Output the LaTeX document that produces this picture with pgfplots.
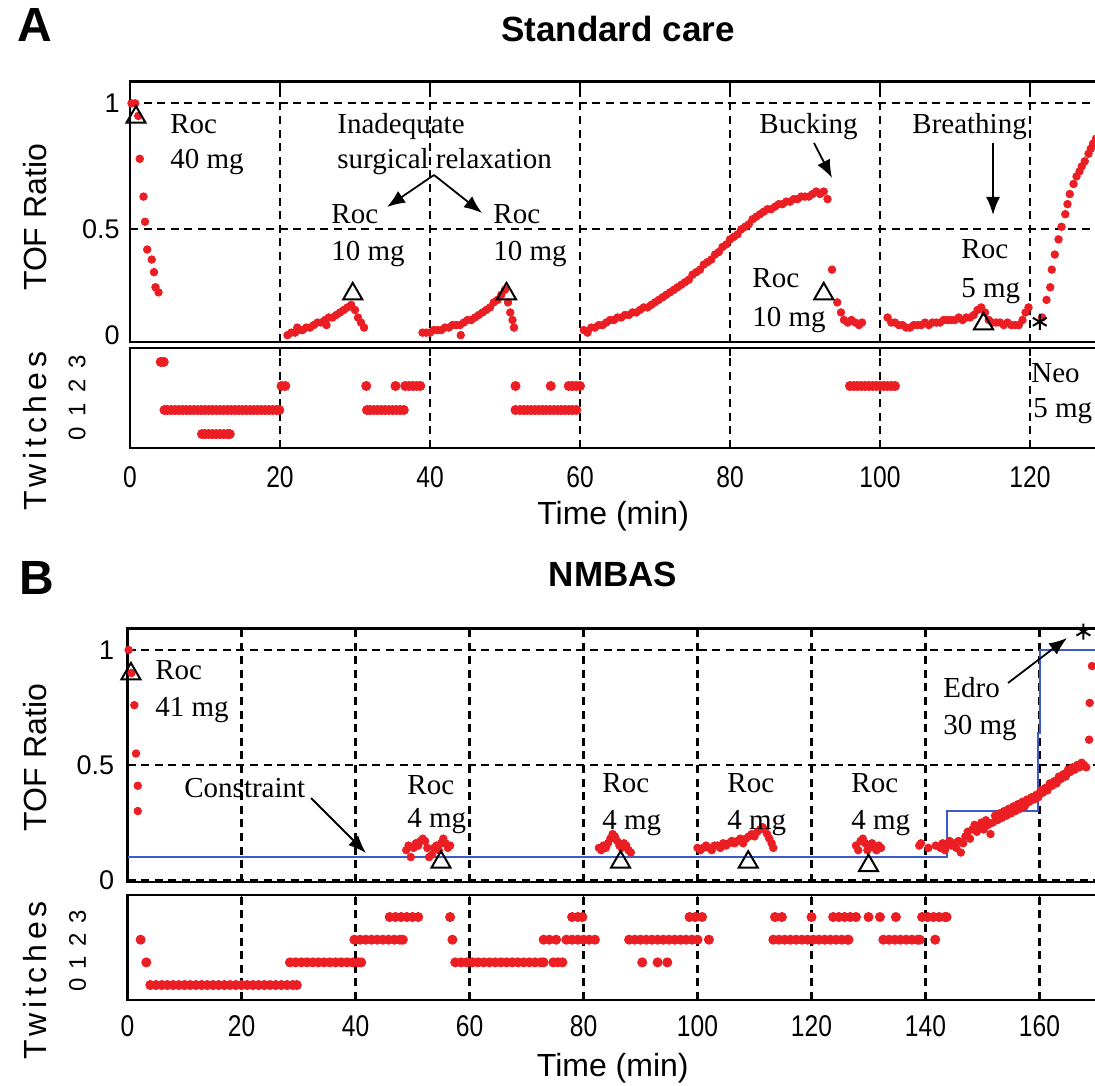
\documentclass[border=0pt]{standalone}
\usepackage{graphicx}
\usepackage{fontspec}
\setmainfont{Liberation Sans}
\newfontfamily\annot{Liberation Serif}
\usepackage{pgfplots}
\pgfplotsset{compat=1.18}
\usetikzlibrary{arrows.meta}
\definecolor{dotred}{RGB}{235,30,36}
\definecolor{lineblue}{RGB}{60,90,200}
\newcommand\sx[1]{\scalebox{0.82}[1]{#1}}

\pgfplotsset{
  panel/.style={
    scale only axis, anchor=south west, clip=false,
    axis line style={line width=1.2pt},
    tick align=inside, major tick length=4pt,
    tick style={black, line width=0.9pt},
    major grid style={black, line width=1.05pt, dash pattern=on 4pt off 2.8pt},
    xmajorgrids,
    /pgf/number format/assume math mode=true,
    tick label style={font=\fontsize{13.5}{15}\selectfont},
    label style={font=\fontsize{16}{18}\selectfont},
  },
  tofdots/.style={only marks, mark=*, mark size=1.9pt, color=dotred},
  twdots/.style={only marks, mark=*, mark size=2.3pt, color=dotred},
  dose/.style={only marks, mark=triangle, mark size=5.5pt, black, mark options={line width=1pt}},
  reversal/.style={only marks, mark=asterisk, mark size=4pt, black, mark options={line width=1pt}},
  twstyle/.style={
    ytick={0,1,2,3}, yticklabels={0,1,2,3},
    ytick style={draw=none},
    yticklabel style={rotate=90, anchor=center, font=\fontsize{12}{13}\selectfont},
    xticklabel style={anchor=center, font=\fontsize{15}{16}\selectfont},
  },
}

\begin{document}
\begin{tikzpicture}
\useasboundingbox (0,0) rectangle (547.5pt,-542.5pt);

% ---------------- A: TOF ratio
\begin{axis}[panel, at={(65pt,-170.85pt)}, width=495pt, height=130pt,
  xmin=0, xmax=132, ymin=0.054, ymax=1.086,
  xtick={0,20,...,120}, xticklabels={},
  ytick={0.5,1}, yticklabels={0.5,1},
  extra y ticks={0.08}, extra y tick labels={0},
  extra y tick style={grid=none, major tick length=0pt},
  ymajorgrids,
  yticklabel style={anchor=east, inner sep=0pt}, yticklabel shift=5pt,
  ylabel={TOF Ratio},
  ylabel style={at={([xshift=-47.5pt]axis description cs:0,0.478)}, anchor=center},
]
\addplot[tofdots] coordinates {
 (0.2,1.0) (0.7,1.0) (1.1,0.95) (1.3,0.78) (1.8,0.63) (2.0,0.53) (2.3,0.42)
 (2.9,0.38) (3.2,0.33) (3.4,0.27) (3.8,0.25)
};
\addplot[tofdots] coordinates {
 (21.0,0.08) (21.5,0.09) (22.0,0.09) (22.3,0.11) (22.5,0.10) (23.0,0.10) (23.5,0.11)
 (24.0,0.11) (24.5,0.12) (25.0,0.13) (25.5,0.13) (26.0,0.14) (26.2,0.12) (26.5,0.15)
 (27.0,0.15) (27.5,0.16) (28.0,0.17) (28.5,0.18) (29.0,0.19) (29.5,0.20) (30.0,0.18)
 (30.4,0.15) (30.8,0.13) (31.2,0.11)
};
\addplot[tofdots] coordinates {
 (39.0,0.09) (39.5,0.09) (40.0,0.09) (40.5,0.10) (41.0,0.10) (41.5,0.10) (42.0,0.11)
 (42.5,0.11) (43.0,0.12) (43.5,0.12) (44.0,0.12) (44.1,0.08) (44.5,0.13) (45.0,0.14)
 (45.5,0.14) (46.0,0.15) (46.5,0.16) (47.0,0.17) (47.5,0.18) (48.0,0.19) (48.5,0.21)
 (49.0,0.22) (49.5,0.24) (50.0,0.26) (50.4,0.21) (50.7,0.17) (51.0,0.14) (51.2,0.11)
};
\addplot[tofdots] coordinates {
 (60.5,0.10) (61.0,0.09) (61.5,0.11) (62.0,0.11) (62.5,0.12) (63.0,0.12) (63.5,0.13)
 (64.0,0.14) (64.5,0.14) (65.0,0.15) (65.5,0.15) (66.0,0.16) (66.5,0.16) (67.0,0.17)
 (67.5,0.17) (68.0,0.18) (68.5,0.19) (69.0,0.19) (69.5,0.20) (70.0,0.21) (70.5,0.22)
 (71.0,0.23) (71.5,0.24) (72.0,0.25) (72.5,0.26) (73.0,0.27) (73.5,0.28) (74.0,0.29)
 (74.5,0.30) (75.0,0.32) (75.5,0.33) (76.0,0.34) (76.5,0.36) (77.0,0.37) (77.5,0.38)
 (78.0,0.40) (78.5,0.41) (79.0,0.43) (79.5,0.44) (80.0,0.46) (80.5,0.47) (81.0,0.48)
 (81.5,0.50) (82.0,0.51) (82.5,0.52) (83.0,0.54) (83.5,0.55) (84.0,0.56) (84.5,0.57)
 (85.0,0.58) (85.5,0.58) (86.0,0.59) (86.5,0.60) (87.0,0.60) (87.5,0.61) (88.0,0.61)
 (88.5,0.62) (89.0,0.62) (89.5,0.63) (90.0,0.63) (90.5,0.63) (91.0,0.64) (91.5,0.65)
 (92.0,0.64) (92.5,0.65) (93.0,0.62)
};
\addplot[tofdots] coordinates {
 (93.6,0.34) (94.3,0.21) (94.8,0.17) (95.2,0.14) (95.7,0.13) (96.2,0.14) (96.7,0.13)
 (97.2,0.12) (97.6,0.13)
};
\addplot[tofdots] coordinates {
 (101.0,0.15) (101.5,0.13) (102.0,0.13) (102.5,0.12) (103.0,0.12) (103.5,0.11)
 (104.0,0.11) (104.5,0.12) (105.0,0.12) (105.5,0.12) (106.0,0.13) (106.5,0.12)
 (107.0,0.13) (107.5,0.13) (108.0,0.13) (108.5,0.14) (109.0,0.14) (109.5,0.14)
 (110.0,0.14) (110.5,0.15) (111.0,0.14) (111.5,0.15) (112.0,0.15) (112.5,0.16)
 (113.0,0.18) (113.5,0.19) (114.0,0.17) (114.5,0.14) (115.0,0.13) (115.5,0.13)
 (116.0,0.13) (116.5,0.12) (117.0,0.13) (117.5,0.12) (118.0,0.12) (118.5,0.12)
 (119.0,0.14) (119.4,0.17) (119.8,0.19)
};
\addplot[tofdots] coordinates {
 (121.6,0.15) (122.2,0.22) (122.7,0.27) (122.9,0.34) (123.3,0.40) (123.8,0.46)
 (124.2,0.51) (124.7,0.56) (125.0,0.60) (125.3,0.64) (125.8,0.68) (126.2,0.71)
 (126.6,0.73) (126.9,0.75) (127.3,0.77) (127.8,0.80) (128.1,0.82) (128.4,0.84) (128.8,0.86)
};
\addplot[dose] coordinates {(0.8,0.945) (29.7,0.244) (50.2,0.244) (92.5,0.244) (113.8,0.125)};
\addplot[reversal] coordinates {(121.3,0.133)};
\end{axis}

% ---------------- A: twitches
\begin{axis}[panel, twstyle, at={(65pt,-224pt)}, width=495pt, height=50pt,
  xmin=0, xmax=132, ymin=-0.58, ymax=3.58,
  xtick={0,20,...,120},
  xticklabels={\sx{0},\sx{20},\sx{40},\sx{60},\sx{80},\sx{100},\sx{120}},
  xticklabel shift=14.5pt, yticklabel shift=26.5pt,
  xlabel={Time (min)},
  xlabel style={at={([yshift=-34pt]axis description cs:0.488,0)}, anchor=center},
  ylabel={Twitches},
  ylabel style={at={([xshift=-47.5pt]axis description cs:0,0.17)}, anchor=center,
    font=\fontsize{16}{18}\selectfont\addfontfeature{LetterSpace=15}},
]
\addplot[twdots] coordinates {(4.1,3) (4.5,3)};
\addplot[twdots] coordinates {
 (20.2,2) (20.7,2) (31.5,2) (35.4,2) (36.7,2) (37.2,2) (37.7,2) (38.2,2) (38.7,2)
 (51.4,2) (56.1,2) (58.5,2) (59.0,2) (59.5,2) (60.0,2)
 (96.0,2) (96.5,2) (97.0,2) (97.5,2) (98.0,2) (98.5,2) (99.0,2) (99.5,2) (100.0,2)
 (100.5,2) (101.0,2) (101.5,2) (102.0,2)
};
\addplot[twdots] coordinates {
 (4.6,1) (5.0,1) (5.5,1) (6.0,1) (6.5,1) (7.0,1) (7.5,1) (8.0,1) (8.5,1) (9.0,1)
 (9.5,1) (10.0,1) (10.5,1) (11.0,1) (11.5,1) (12.0,1) (12.5,1) (13.0,1) (13.5,1)
 (14.0,1) (14.5,1) (15.0,1) (15.5,1) (16.0,1) (16.5,1) (17.0,1) (17.5,1) (18.0,1)
 (18.5,1) (19.0,1) (19.5,1) (19.9,1)
 (31.6,1) (32.0,1) (32.5,1) (33.0,1) (33.5,1) (34.0,1) (34.5,1) (35.0,1) (35.5,1)
 (36.0,1) (36.5,1)
 (51.4,1) (52.0,1) (52.5,1) (53.0,1) (53.5,1) (54.0,1) (54.5,1) (55.0,1) (55.5,1)
 (56.0,1) (56.5,1) (57.0,1) (57.5,1) (58.0,1) (58.5,1) (59.0,1) (59.5,1)
};
\addplot[twdots] coordinates {
 (9.6,0) (10.0,0) (10.5,0) (11.0,0) (11.5,0) (12.0,0) (12.5,0) (13.0,0) (13.3,0)
};
\end{axis}

% ---------------- B: TOF ratio
\begin{axis}[panel, at={(63.75pt,-440.85pt)}, width=490.2pt, height=126.7pt,
  xmin=0, xmax=172, ymin=-0.007, ymax=1.094,
  xtick={0,20,...,160}, xticklabels={},
  ytick={0,0.5,1}, yticklabels={0,0.5,1},
  ymajorgrids,
  yticklabel style={anchor=east, inner sep=0pt}, yticklabel shift=6.5pt,
  ylabel={TOF Ratio},
  ylabel style={at={([xshift=-46.25pt]axis description cs:0,0.49)}, anchor=center},
]
\addplot[lineblue, line width=1pt] coordinates {
 (0,0.1) (143.7,0.1) (143.7,0.3) (159.7,0.3) (159.7,0.64) (160.1,0.64) (160.1,1.0) (172,1.0)
};
\addplot[tofdots] coordinates {
 (0.2,1.0) (0.7,0.9) (1.2,0.76) (1.5,0.55) (1.8,0.41) (1.8,0.30)
};
\addplot[tofdots] coordinates {
 (48.9,0.13) (49.3,0.15) (49.7,0.10) (50.2,0.14) (50.6,0.16) (51.0,0.15) (51.4,0.17)
 (51.8,0.18) (52.2,0.17) (52.6,0.14) (52.9,0.10) (53.4,0.11) (53.8,0.14) (54.2,0.15)
 (54.6,0.13) (55.0,0.16) (55.4,0.18) (55.8,0.16) (56.2,0.14) (56.6,0.15)
};
\addplot[tofdots] coordinates {
 (82.7,0.14) (83.1,0.13) (83.5,0.15) (83.9,0.14) (84.3,0.16) (84.7,0.18) (85.1,0.20)
 (85.5,0.19) (85.9,0.17) (86.3,0.15) (86.7,0.14) (87.1,0.16) (87.5,0.15) (87.9,0.13)
 (88.3,0.12)
};
\addplot[tofdots] coordinates {
 (100.0,0.14) (100.5,0.13) (101.0,0.14) (101.5,0.15) (102.0,0.14) (102.5,0.13)
 (103.0,0.15) (103.5,0.15) (104.0,0.14) (104.5,0.16) (105.0,0.15) (105.5,0.16)
 (106.0,0.17) (106.5,0.16) (107.0,0.17) (107.5,0.18) (108.0,0.16) (108.5,0.18)
 (109.0,0.19) (109.5,0.20) (110.0,0.19) (110.5,0.21) (111.0,0.22) (111.4,0.23)
 (111.8,0.22) (112.2,0.20) (112.6,0.18) (113.0,0.16) (113.3,0.14)
};
\addplot[tofdots] coordinates {
 (127.8,0.15) (128.2,0.13) (128.6,0.17) (129.0,0.18) (129.4,0.16) (129.8,0.13)
 (130.2,0.15) (130.6,0.16) (131.0,0.14) (131.4,0.13) (131.8,0.15) (132.2,0.14)
};
\addplot[tofdots] coordinates {
 (138.9,0.15) (139.2,0.16) (140.5,0.14) (141.8,0.15) (142.6,0.14) (143.0,0.16)
 (143.4,0.13) (143.8,0.15) (144.2,0.17) (144.6,0.15) (145.0,0.16) (145.4,0.14)
 (145.8,0.17) (146.2,0.12) (146.6,0.16) (147.0,0.19) (147.4,0.21) (147.8,0.18)
 (148.2,0.22) (148.6,0.24) (149.0,0.21) (149.4,0.23) (149.8,0.25) (150.2,0.22)
 (150.6,0.26) (151.0,0.24) (151.4,0.20) (151.8,0.25) (152.2,0.28) (152.6,0.26)
 (153.0,0.29) (153.4,0.27) (153.8,0.30) (154.2,0.28) (154.6,0.31) (155.0,0.29)
 (155.4,0.32) (155.8,0.30) (156.2,0.33) (156.6,0.31) (157.0,0.34) (157.4,0.32)
 (157.8,0.35) (158.2,0.34) (158.6,0.36) (159.0,0.35) (159.4,0.37) (159.8,0.36)
 (160.2,0.39) (160.6,0.38) (161.0,0.40) (161.4,0.39) (161.8,0.42) (162.2,0.41)
 (162.6,0.43) (163.0,0.42) (163.4,0.45) (163.8,0.44) (164.2,0.46) (164.6,0.45)
 (165.0,0.48) (165.4,0.47) (165.8,0.49) (166.2,0.48) (166.6,0.50) (167.0,0.49)
 (167.4,0.51) (167.8,0.50) (168.2,0.49) (168.7,0.61) (168.8,0.77) (169.2,0.93)
};
\addplot[dose] coordinates {(0.6,0.896) (55.0,0.078) (86.5,0.078) (108.9,0.078) (130.0,0.063)};
\addplot[reversal] coordinates {(167.7,1.08)};
\end{axis}

% ---------------- B: twitches
\begin{axis}[panel, twstyle, at={(63.75pt,-500pt)}, width=490.2pt, height=52.5pt,
  xmin=0, xmax=172, ymin=-0.66, ymax=3.97,
  xtick={0,20,...,160},
  xticklabels={\sx{0},\sx{20},\sx{40},\sx{60},\sx{80},\sx{100},\sx{120},\sx{140},\sx{160}},
  xticklabel shift=13pt, yticklabel shift=25pt,
  xlabel={Time (min)},
  xlabel style={at={([yshift=-34pt]axis description cs:0.495,0)}, anchor=center},
  ylabel={Twitches},
  ylabel style={at={([xshift=-46.25pt]axis description cs:0,0.19)}, anchor=center,
    font=\fontsize{16}{18}\selectfont\addfontfeature{LetterSpace=15}},
]
\addplot[twdots] coordinates {
 (46,3) (47,3) (48,3) (49,3) (50,3) (51,3) (56.6,3) (78,3) (79,3) (79.8,3)
 (98.6,3) (99.6,3) (100.8,3) (113.6,3) (114.8,3) (120,3)
 (123.8,3) (124.8,3) (125.8,3) (126.8,3) (127.8,3) (130,3) (132,3) (134.8,3)
 (139.4,3) (140.4,3) (141.4,3) (142.4,3) (143.4,3) (143.7,3)
};
\addplot[twdots] coordinates {
 (2.3,2) (39.8,2) (40.8,2) (41.8,2) (42.8,2) (43.8,2) (44.8,2) (45.8,2) (46.8,2)
 (47.8,2) (48.3,2) (57,2) (73,2) (74,2) (75.2,2) (77,2) (78,2) (79,2) (80,2) (81,2) (82,2)
 (88,2) (89,2) (90,2) (91,2) (92,2) (93,2) (94,2) (95,2) (96,2) (97,2) (98,2) (99,2) (100,2)
 (102,2) (113.3,2) (114.3,2) (115.3,2) (116.3,2) (117.3,2) (118.3,2) (119.3,2) (120.3,2)
 (121.3,2) (122.3,2) (123.3,2) (124.3,2) (125.3,2) (126.3,2) (126.5,2)
 (132.6,2) (133.6,2) (134.6,2) (135.6,2) (136.6,2) (137.6,2) (138.6,2) (139,2) (141.7,2)
};
\addplot[twdots] coordinates {
 (3.3,1) (28.5,1) (29.5,1) (30.5,1) (31.5,1) (32.5,1) (33.5,1) (34.5,1) (35.5,1)
 (36.5,1) (37.5,1) (38.5,1) (39.5,1) (40.5,1) (41,1)
 (57.5,1) (58.5,1) (59.5,1) (60.5,1) (61.5,1) (62.5,1) (63.5,1) (64.5,1) (65.5,1)
 (66.5,1) (67.5,1) (68.5,1) (69.5,1) (70.5,1) (71.5,1) (72.5,1) (73,1)
 (74.7,1) (75.5,1) (76.3,1) (90.3,1) (93,1) (94.7,1)
};
\addplot[twdots] coordinates {
 (4,0) (5,0) (6,0) (7,0) (8,0) (9,0) (10,0) (11,0) (12,0) (13,0) (14,0) (15,0) (16,0)
 (17,0) (18,0) (19,0) (20,0) (21,0) (22,0) (23,0) (24,0) (25,0) (26,0) (27,0) (28,0)
 (29,0) (29.7,0)
};
\end{axis}

% ---------------- titles, panel letters, annotations (page pixels)
\begin{scope}[x=0.5pt, y=-0.5pt]
\node[font=\fontsize{24}{26}\selectfont\bfseries] at (35,25) {A};
\node[font=\fontsize{24}{26}\selectfont\bfseries] at (36.5,577.5) {B};
\node[font=\fontsize{17.5}{19}\selectfont\bfseries] at (618,29) {Standard care};
\node[font=\fontsize{17.5}{19}\selectfont\bfseries] at (613,574) {NMBAS};

\begin{scope}[every node/.style={anchor=base west, inner sep=0pt,
    font=\annot\fontsize{14.5}{16}\selectfont}]
\node at (170,134) {Roc};
\node at (170,169) {40 mg};
\node at (337,134) {Inadequate};
\node at (337,169) {surgical relaxation};
\node at (331,224) {Roc};
\node at (331,261) {10 mg};
\node at (493,224) {Roc};
\node at (493,261) {10 mg};
\node at (759,134) {Bucking};
\node at (912,134) {Breathing};
\node at (961,259) {Roc};
\node at (961,297) {5 mg};
\node at (752,287) {Roc};
\node at (752,326) {10 mg};
\node at (1031,382) {Neo};
\node at (1033,417) {5 mg};
\node at (155,679) {Roc};
\node at (155,716) {41 mg};
\node at (184,797) {Constraint};
\node at (407,794) {Roc};
\node at (407,827) {4 mg};
\node at (602,792) {Roc};
\node at (602,829) {4 mg};
\node at (727,792) {Roc};
\node at (727,829) {4 mg};
\node at (851,792) {Roc};
\node at (851,829) {4 mg};
\node at (943,697) {Edro};
\node at (943,734) {30 mg};
\end{scope}

\begin{scope}[line width=0.9pt, -{Latex[length=9pt,width=7pt]}]
\draw (434,175) -- (387,207);
\draw (434,175) -- (482,213);
\draw (814,143) -- (832,178);
\draw (993,143) -- (993,215);
\draw (311,798) -- (366,853);
\draw (1008,683) -- (1067,638);
\end{scope}
\end{scope}
\end{tikzpicture}
\end{document}
